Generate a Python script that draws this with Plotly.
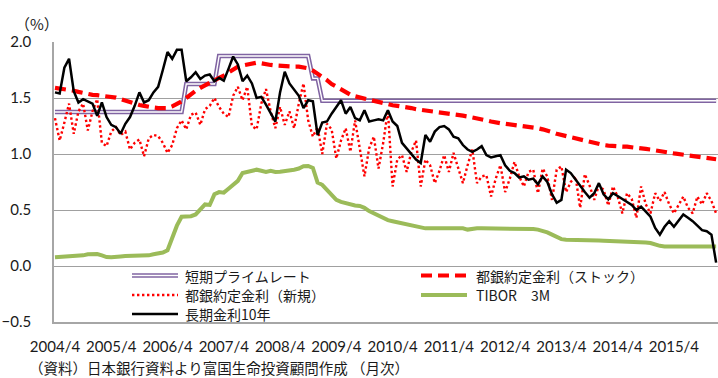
import plotly.graph_objects as go

# Monthly observations, 2004/4 - 2016/1
months = []
yr, mo = 2004, 4
for _ in range(142):
    months.append(f"{yr}/{mo}")
    mo += 1
    if mo > 12:
        yr, mo = yr + 1, 1

tick_labels = [f"{y}/4" for y in range(2004, 2016)]

# 短期プライムレート (%)
prime_rate = [1.375] * 28 + [1.625] * 7 + [1.875] * 20 + [1.675] * 2 + [1.475] * 85

# 都銀約定金利（ストック） (%)
bank_stock = [
    1.59, 1.585, 1.58, 1.575, 1.565, 1.555, 1.545, 1.537, 1.528,
    1.525, 1.52, 1.515, 1.51, 1.503,
    1.49, 1.475, 1.46, 1.45, 1.438,
    1.43, 1.42, 1.415, 1.41, 1.408, 1.41,
    1.425, 1.445, 1.47, 1.50, 1.535, 1.565,
    1.59, 1.615, 1.635, 1.66, 1.68, 1.70, 1.725, 1.76,
    1.78, 1.79, 1.80, 1.81, 1.815, 1.81, 1.80,
    1.795, 1.79, 1.786, 1.785, 1.783, 1.78, 1.78, 1.775, 1.765,
    1.745, 1.72, 1.69, 1.66, 1.625, 1.60, 1.575, 1.55, 1.53, 1.515,
    1.505, 1.495, 1.48, 1.47, 1.46, 1.45, 1.44, 1.435, 1.43,
    1.425, 1.415, 1.41, 1.40, 1.395, 1.385, 1.38, 1.375, 1.37,
    1.365, 1.36, 1.352, 1.348, 1.342, 1.335, 1.328, 1.318,
    1.31, 1.30, 1.29, 1.28, 1.275, 1.27, 1.265, 1.26,
    1.255, 1.25, 1.245, 1.24, 1.23, 1.22, 1.21, 1.195, 1.18,
    1.17, 1.16, 1.145, 1.135, 1.125, 1.12, 1.11,
    1.10, 1.09, 1.08, 1.075, 1.07, 1.068, 1.066, 1.065,
    1.062, 1.055, 1.05, 1.045, 1.04, 1.035, 1.03, 1.02, 1.012,
    1.005, 1.0, 0.993, 0.987, 0.982, 0.977, 0.972, 0.966, 0.96, 0.953,
]

# 都銀約定金利（新規） (%)
bank_new = [
    1.32, 1.12, 1.28, 1.45, 1.18, 1.38, 1.45, 1.21, 1.38, 1.49,
    1.10, 1.07, 1.20, 1.24, 1.17, 1.20, 1.04, 1.10, 1.13, 0.98,
    1.14, 1.17, 1.16, 1.10, 1.01, 1.08, 1.23, 1.30, 1.22, 1.35,
    1.37, 1.26, 1.40, 1.43, 1.50, 1.42, 1.36, 1.33, 1.52, 1.60,
    1.48, 1.60, 1.25, 1.22, 1.45, 1.58, 1.38, 1.23, 1.42, 1.26,
    1.38, 1.23, 1.45, 1.63, 1.30, 1.155, 1.24, 1.00, 1.27, 1.22,
    0.96, 1.12, 1.23, 1.02, 1.30, 1.05, 0.80, 1.05, 1.155, 0.87,
    1.10, 1.39, 0.71, 0.95, 0.99, 0.84, 1.02, 1.12, 0.71, 0.95,
    0.90, 0.74, 0.85, 0.99, 0.84, 1.01, 0.88, 0.74, 0.90, 1.04,
    0.74, 0.80, 0.81, 0.62, 0.78, 0.90, 0.66, 0.78, 0.93, 0.80,
    0.71, 0.84, 0.86, 0.65, 0.87, 0.80, 0.59, 0.86, 0.89, 0.66,
    0.75, 0.80, 0.52, 0.82, 0.72, 0.59, 0.72, 0.68, 0.54, 0.71,
    0.62, 0.47, 0.65, 0.60, 0.43, 0.71, 0.55, 0.47, 0.65, 0.58,
    0.66, 0.55, 0.47, 0.55, 0.62, 0.52, 0.47, 0.62, 0.55, 0.65,
    0.58, 0.47,
]

# TIBOR 3M (%)
tibor_3m = [
    0.078, 0.08, 0.089, 0.089, 0.089, 0.089, 0.095, 0.105, 0.107, 0.107,
    0.095, 0.08, 0.078, 0.078, 0.085, 0.089, 0.089, 0.089, 0.089, 0.09,
    0.095, 0.105, 0.11, 0.12, 0.14, 0.25, 0.36, 0.44, 0.44, 0.445,
    0.46, 0.50, 0.55, 0.545, 0.64, 0.66, 0.655, 0.69, 0.72, 0.76,
    0.83, 0.842, 0.85, 0.86, 0.85, 0.84, 0.85, 0.84, 0.842, 0.845,
    0.855, 0.86, 0.87, 0.89, 0.893, 0.875, 0.745, 0.725, 0.68, 0.63,
    0.59, 0.572, 0.56, 0.55, 0.54, 0.536, 0.52, 0.49, 0.47, 0.445,
    0.425, 0.41, 0.40, 0.39, 0.385, 0.37, 0.36, 0.355, 0.34, 0.336,
    0.336, 0.336, 0.336, 0.336, 0.336, 0.336, 0.336, 0.336, 0.325, 0.335,
    0.336, 0.336, 0.336, 0.336, 0.336, 0.336, 0.336, 0.335, 0.335, 0.334,
    0.333, 0.332, 0.33, 0.325, 0.315, 0.30, 0.28, 0.26, 0.24, 0.235,
    0.235, 0.234, 0.233, 0.232, 0.23, 0.228, 0.227, 0.226, 0.225, 0.224,
    0.222, 0.22, 0.219, 0.217, 0.215, 0.21, 0.21, 0.205, 0.19, 0.18,
    0.175, 0.173, 0.173, 0.173, 0.173, 0.173, 0.173, 0.173, 0.173, 0.173,
    0.173, 0.173,
]

# 長期金利10年 (%)
jgb_10y = [
    1.55, 1.54, 1.77, 1.85, 1.56, 1.46, 1.49, 1.47, 1.45, 1.34,
    1.46, 1.33, 1.26, 1.24, 1.18, 1.27, 1.33, 1.43, 1.55, 1.46,
    1.48, 1.55, 1.60, 1.75, 1.91, 1.85, 1.93, 1.93, 1.65, 1.685,
    1.73, 1.67, 1.70, 1.71, 1.65, 1.68, 1.655, 1.76, 1.87, 1.80,
    1.65, 1.70, 1.63, 1.50, 1.51, 1.44, 1.36, 1.29, 1.55, 1.735,
    1.63, 1.58, 1.52, 1.41, 1.48, 1.47, 1.17, 1.28, 1.29, 1.36,
    1.42, 1.48, 1.36, 1.42, 1.32, 1.30, 1.39, 1.29, 1.30, 1.31,
    1.30, 1.39, 1.29, 1.25, 1.10, 1.05, 0.99, 0.95, 0.92, 1.17,
    1.11, 1.20, 1.24, 1.25, 1.22, 1.155, 1.14, 1.08, 1.04, 1.02,
    1.04, 1.07, 0.99, 0.97, 0.98, 0.99, 0.90, 0.85, 0.83, 0.79,
    0.80, 0.77, 0.78, 0.73, 0.80, 0.75, 0.64, 0.565, 0.59, 0.86,
    0.83, 0.77, 0.71, 0.66, 0.61, 0.65, 0.74, 0.64, 0.595, 0.65,
    0.625, 0.60, 0.575, 0.545, 0.50, 0.53, 0.485, 0.44, 0.34, 0.28,
    0.35, 0.40, 0.35, 0.41, 0.46, 0.43, 0.40, 0.36, 0.32, 0.31,
    0.28, 0.03,
]

JP_FONT = "Noto Sans CJK JP"
NUM_FONT = "Lato"
PURPLE = "#8064A2"
RED = "#FF0000"
GREEN = "#9BBB59"
TEXT = "#1a1a1a"

PRIME_OUTER = dict(color=PURPLE, width=4.5)
PRIME_INNER = dict(color="white", width=1.4)
STOCK_LINE = dict(color=RED, width=4.2, dash="11px,6px")
NEW_LINE = dict(color=RED, width=2.4, dash="2.4px,2.6px")
TIBOR_LINE = dict(color=GREEN, width=4)
JGB_LINE = dict(color="black", width=2.5)

fig = go.Figure()

# 短期プライムレート: purple double line (wide purple stroke with white core)
fig.add_trace(go.Scatter(x=months, y=prime_rate, mode="lines",
                         line=PRIME_OUTER, hoverinfo="skip"))
fig.add_trace(go.Scatter(x=months, y=prime_rate, mode="lines",
                         line=PRIME_INNER, hoverinfo="skip"))
fig.add_trace(go.Scatter(x=months, y=bank_stock, mode="lines", line=STOCK_LINE))
fig.add_trace(go.Scatter(x=months, y=bank_new, mode="lines", line=NEW_LINE))
fig.add_trace(go.Scatter(x=months, y=tibor_3m, mode="lines", line=TIBOR_LINE))
fig.add_trace(go.Scatter(x=months, y=jgb_10y, mode="lines", line=JGB_LINE))

# Plot-area geometry in pixels, used to place the legend and notes
L, R, T, B = 54, 718, 42, 322


def px(xp):
    return (xp - L) / (R - L)


def py(yp):
    return (B - yp) / (B - T)


shapes = []
annotations = []

legend_items = [
    # (label, symbol x0, text x, row y, line styles)
    ("短期プライムレート", 132, 183, 275.5, [PRIME_OUTER, PRIME_INNER]),
    ("都銀約定金利（ストック）", 421, 474, 275.5, [STOCK_LINE]),
    ("都銀約定金利（新規）", 132, 183, 295, [NEW_LINE]),
    ("TIBOR　3M", 421, 474, 295, [TIBOR_LINE]),
    ("長期金利10年", 132, 183, 314, [JGB_LINE]),
]
for label, sx, tx, ry, styles in legend_items:
    for st in styles:
        shapes.append(dict(type="line", xref="paper", yref="paper",
                           x0=px(sx), x1=px(sx + 46), y0=py(ry), y1=py(ry),
                           line=st))
    annotations.append(dict(text=label, xref="paper", yref="paper",
                            x=px(tx), y=py(ry), xanchor="left", yanchor="middle",
                            showarrow=False,
                            font=dict(family=JP_FONT, size=14, color=TEXT)))

annotations.append(dict(text="（%）", xref="paper", yref="paper",
                        x=px(37), y=py(23), xanchor="center", yanchor="middle",
                        showarrow=False,
                        font=dict(family=JP_FONT, size=15, color=TEXT)))
annotations.append(dict(text="（資料）日本銀行資料より富国生命投資顧問作成 （月次）",
                        xref="paper", yref="paper",
                        x=px(28), y=py(367.5), xanchor="left", yanchor="middle",
                        showarrow=False, borderpad=0,
                        font=dict(family=JP_FONT, size=14.5, color=TEXT)))

fig.update_layout(
    width=718, height=378,
    margin=dict(l=L, r=0, t=T, b=378 - B, pad=0),
    paper_bgcolor="white", plot_bgcolor="white",
    showlegend=False,
    shapes=shapes,
    annotations=annotations,
    xaxis=dict(
        type="category",
        range=[-0.21, 141.4],
        tickmode="array", tickvals=tick_labels, ticktext=tick_labels,
        showgrid=False, zeroline=False,
        showline=True, linecolor="#A6A6A6", linewidth=1.5,
        ticks="", ticklabelstandoff=10,
        tickfont=dict(family=NUM_FONT, size=15, color=TEXT),
    ),
    yaxis=dict(
        range=[-0.5, 2.0], tick0=0, dtick=0.5, tickformat=".1f",
        showgrid=True, gridcolor="#A0A0A0", gridwidth=1.2,
        zeroline=False,
        showline=True, linecolor="#A6A6A6", linewidth=1.5,
        ticks="", ticklabelstandoff=18,
        tickfont=dict(family=NUM_FONT, size=15, color=TEXT),
    ),
)

fig.write_html("out.html")
